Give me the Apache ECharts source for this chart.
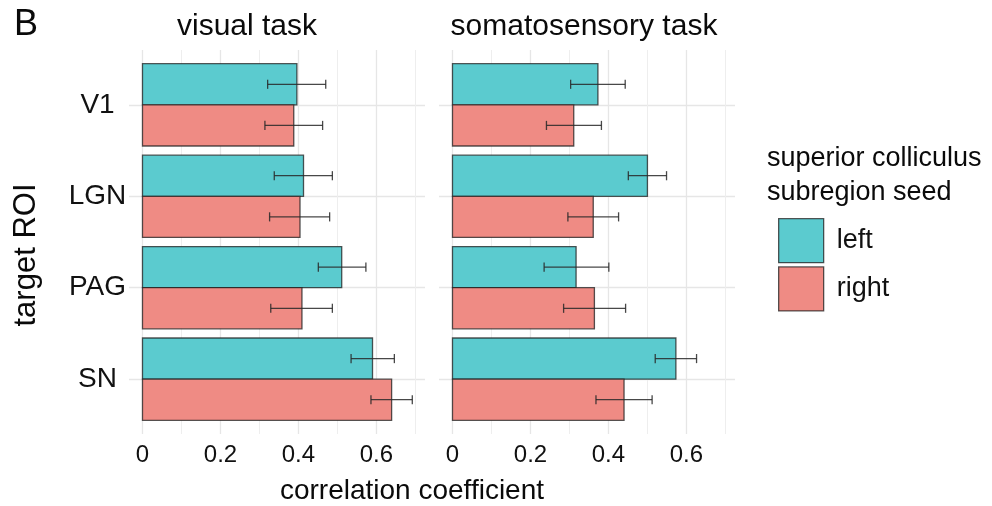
<!DOCTYPE html>
<html>
<head>
<meta charset="utf-8">
<script src="https://cdn.jsdelivr.net/npm/echarts@6/dist/echarts.min.js"></script>
<style>
html,body{margin:0;padding:0;background:#fff;}
#chart{width:992px;height:506px;}
</style>
</head>
<body>
<div id="chart"></div>
<script>
// ---- data ----
var categories = ['V1', 'LGN', 'PAG', 'SN'];
var panelTitles = ['visual task', 'somatosensory task'];
var seedNames = ['left', 'right'];

var visualLeft    = [0.396, 0.413, 0.511, 0.590];
var visualLeftLo  = [0.321, 0.338, 0.451, 0.535];
var visualLeftHi  = [0.470, 0.487, 0.573, 0.646];
var visualRight   = [0.388, 0.404, 0.409, 0.639];
var visualRightLo = [0.314, 0.326, 0.329, 0.586];
var visualRightHi = [0.462, 0.480, 0.487, 0.692];

var somatoLeft    = [0.373, 0.500, 0.317, 0.573];
var somatoLeftLo  = [0.303, 0.451, 0.235, 0.520];
var somatoLeftHi  = [0.443, 0.549, 0.401, 0.626];
var somatoRight   = [0.311, 0.361, 0.364, 0.440];
var somatoRightLo = [0.241, 0.296, 0.285, 0.368];
var somatoRightHi = [0.382, 0.426, 0.444, 0.512];

var xMajorTicks = [0, 0.2, 0.4, 0.6];
var xMinorTicks = [0.1, 0.3, 0.5, 0.7];
var xMin = -0.0346, xMax = 0.7246;

// ---- styles ----
var FONT = '"Liberation Sans", Arial, Helvetica, sans-serif';
var TEAL = '#5bcbcf';
var SALMON = '#ef8b84';
var BORDER = 'rgba(30,30,30,0.75)';
var GRID_MAJOR = '#e6e6e6';
var GRID_MINOR = '#eeeeee';
var catIdx = categories.map(function (c, i) { return i; });

var grids = [
  { left: 129, top: 50, width: 296, height: 384 },
  { left: 439, top: 50, width: 296, height: 384 }
];

var xAxes = [], yAxes = [];
[0, 1].forEach(function (g) {
  xAxes.push({
    type: 'value', gridIndex: g, min: xMin, max: xMax, position: 'bottom',
    axisLine: { show: false },
    axisTick: { show: false, customValues: xMajorTicks },
    axisLabel: {
      show: true, customValues: xMajorTicks, margin: 21,
      fontFamily: FONT, fontSize: 24, color: '#111',
      verticalAlign: 'middle',
      formatter: function (v) { return v === 0 ? '0' : (+v).toFixed(1); }
    },
    splitLine: { show: true, lineStyle: { color: GRID_MAJOR, width: 1.3 } }
  });
  xAxes.push({
    type: 'value', gridIndex: g, min: xMin, max: xMax, position: 'bottom',
    axisLine: { show: false },
    axisTick: { show: false, customValues: xMinorTicks },
    axisLabel: { show: false, customValues: xMinorTicks },
    splitLine: { show: true, lineStyle: { color: GRID_MINOR, width: 1 } }
  });
  yAxes.push({
    type: 'value', gridIndex: g, min: -0.6, max: 3.6, inverse: true,
    axisLine: { show: false },
    axisTick: { show: false, customValues: catIdx },
    axisLabel: {
      show: g === 0, customValues: catIdx, margin: 31.5, align: 'center',
      fontFamily: FONT, fontSize: 28, color: '#111',
      formatter: function (v) { return categories[Math.round(v)]; }
    },
    splitLine: { show: true, lineStyle: { color: GRID_MAJOR, width: 1.3 } }
  });
});

function barSeries(name, grid, values, lo, hi, color) {
  var isLeft = name === 'left';
  return {
    name: name,
    type: 'custom',
    xAxisIndex: grid * 2,
    yAxisIndex: grid,
    itemStyle: { color: color, borderColor: BORDER, borderWidth: 1.3 },
    encode: { x: [0, 2, 3], y: 1 },
    data: values.map(function (v, i) { return [v, i, lo[i], hi[i]]; }),
    renderItem: function (params, api) {
      var v = api.value(0), c = api.value(1), l = api.value(2), h = api.value(3);
      var y0 = isLeft ? c - 0.45 : c;
      var y1 = y0 + 0.45;
      var mid = (y0 + y1) / 2;
      var a = api.coord([0, y0]);
      var b = api.coord([v, y1]);
      var el = api.coord([l, mid]);
      var eh = api.coord([h, mid]);
      var capT = api.coord([l, mid - 0.05])[1];
      var capB = api.coord([l, mid + 0.05])[1];
      var errStyle = { stroke: 'rgba(40,40,40,0.85)', lineWidth: 1.3, fill: null };
      return {
        type: 'group',
        children: [
          {
            type: 'rect',
            shape: { x: a[0], y: Math.min(a[1], b[1]), width: b[0] - a[0], height: Math.abs(b[1] - a[1]) },
            style: { fill: color, stroke: BORDER, lineWidth: 1.3 }
          },
          { type: 'line', shape: { x1: el[0], y1: el[1], x2: eh[0], y2: eh[1] }, style: errStyle },
          { type: 'line', shape: { x1: el[0], y1: capT, x2: el[0], y2: capB }, style: errStyle },
          { type: 'line', shape: { x1: eh[0], y1: capT, x2: eh[0], y2: capB }, style: errStyle }
        ]
      };
    }
  };
}

var series = [
  barSeries('left', 0, visualLeft, visualLeftLo, visualLeftHi, TEAL),
  barSeries('right', 0, visualRight, visualRightLo, visualRightHi, SALMON),
  barSeries('left', 1, somatoLeft, somatoLeftLo, somatoLeftHi, TEAL),
  barSeries('right', 1, somatoRight, somatoRightLo, somatoRightHi, SALMON)
];

function txt(text, x, y, size, align, rot) {
  return {
    type: 'text', x: x, y: y, rotation: rot || 0,
    style: {
      text: text, fontFamily: FONT, fontSize: size, fill: '#0a0a0a',
      align: align || 'center', verticalAlign: 'middle'
    }
  };
}

var option = {
  backgroundColor: '#ffffff',
  animation: false,
  grid: grids,
  xAxis: xAxes,
  yAxis: yAxes,
  series: series,
  legend: {
    orient: 'vertical', left: 778, top: 218, padding: 0,
    itemWidth: 45, itemHeight: 44, itemGap: 3,
    selectedMode: false,
    textStyle: { fontFamily: FONT, fontSize: 27, color: '#111', padding: [0, 0, 0, 8] },
    data: [
      { name: seedNames[0], icon: 'rect', itemStyle: { color: TEAL, borderColor: BORDER, borderWidth: 1.3 } },
      { name: seedNames[1], icon: 'rect', itemStyle: { color: SALMON, borderColor: BORDER, borderWidth: 1.3 } }
    ]
  },
  graphic: [
    txt('B', 26, 25.5, 36, 'center'),
    txt(panelTitles[0], 247, 26.5, 30, 'center'),
    txt(panelTitles[1], 584, 26.5, 30, 'center'),
    txt('correlation coefficient', 412, 491, 28, 'center'),
    txt('target ROI', 26, 255, 31, 'center', Math.PI / 2),
    txt('superior colliculus', 767, 158.6, 27, 'left'),
    txt('subregion seed', 767, 192.3, 27, 'left')
  ]
};

var chart = echarts.init(document.getElementById('chart'), null, { renderer: 'canvas' });
chart.setOption(option);
</script>
</body>
</html>
